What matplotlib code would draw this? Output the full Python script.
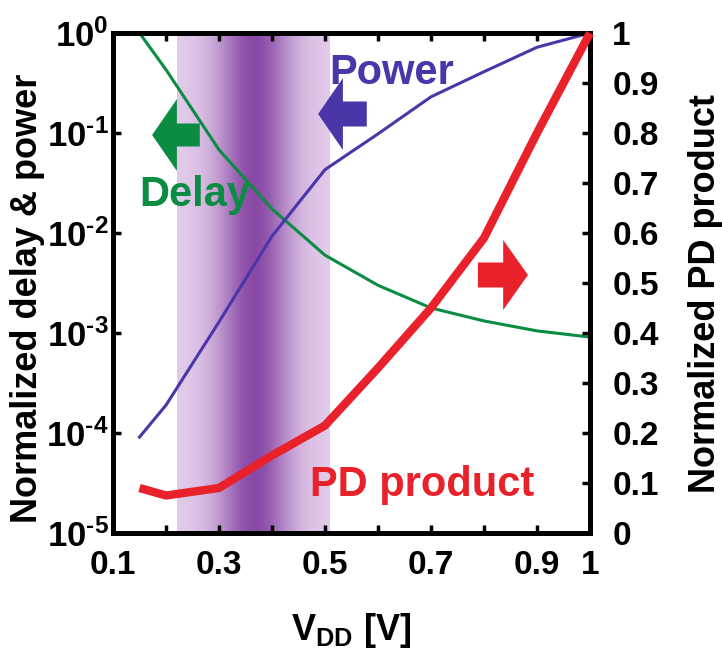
import numpy as np
import matplotlib
matplotlib.use('Agg')
import matplotlib.pyplot as plt
import matplotlib.patches as patches

plt.rcParams['font.family'] = 'Liberation Sans'
plt.rcParams['font.weight'] = 'bold'
plt.rcParams['axes.labelweight'] = 'bold'
plt.rcParams['mathtext.fontset'] = 'custom'
plt.rcParams['mathtext.rm'] = 'Liberation Sans:bold'
plt.rcParams['mathtext.bf'] = 'Liberation Sans:bold'
plt.rcParams['mathtext.it'] = 'Liberation Sans:bold'
plt.rcParams['mathtext.default'] = 'bf'

# data
vdd = [0.15, 0.2, 0.3, 0.4, 0.5, 0.6, 0.7, 0.8, 0.9, 1.0]
delay = [1.0, 0.43, 0.068, 0.0174, 0.006, 0.003, 0.00178, 0.00132, 0.00105, 0.00091]
power = [9.1e-5, 1.9e-4, 1.29e-3, 9.3e-3, 0.043, 0.098, 0.23, 0.41, 0.72, 1.0]
pd_product = [0.09, 0.075, 0.09, 0.155, 0.215, 0.33, 0.45, 0.59, 0.80, 1.0]

x_ticks = [0.1, 0.2, 0.3, 0.4, 0.5, 0.6, 0.7, 0.8, 0.9, 1.0]
x_labels = ['0.1', '', '0.3', '', '0.5', '', '0.7', '', '0.9', '1']
left_ticks = [1e-5, 1e-4, 1e-3, 1e-2, 1e-1, 1]
left_labels = [r'$10^{\text{-}5}$', r'$10^{\text{-}4}$', r'$10^{\text{-}3}$',
               r'$10^{\text{-}2}$', r'$10^{\text{-}1}$', r'$10^{0}$']
right_ticks = [0, 0.1, 0.2, 0.3, 0.4, 0.5, 0.6, 0.7, 0.8, 0.9, 1.0]
right_labels = ['0', '0.1', '0.2', '0.3', '0.4', '0.5', '0.6', '0.7', '0.8', '0.9', '1']

band = (0.22, 0.51)

green = '#0a8c42'
blue = '#4a36a8'
red = '#e8212b'

fig = plt.figure(figsize=(7.22, 6.48), dpi=100)
ax = fig.add_axes([113/722, 1-533/648, 477/722, 500/648])
ax.set_yscale('log')

# purple shaded band, dark in the middle
xs = np.linspace(band[0], band[1], 300)
k = np.exp(-((xs - 0.365) / 0.07) ** 2)
light = np.array([0.89, 0.80, 0.92])
dark = np.array([0.54, 0.29, 0.65])
img = light[None, :] * (1 - k[:, None]) + dark[None, :] * k[:, None]
ax.imshow(img[None, :, :], extent=[band[0], band[1], 0, 1], aspect='auto',
          transform=ax.get_xaxis_transform(), zorder=0, interpolation='bilinear')
ax.set_xlim(0.1, 1.0)
ax.set_ylim(1e-5, 1)

ax.plot(vdd, delay, color=green, lw=2.2, zorder=3, clip_on=False)
ax.plot(vdd, power, color=blue, lw=2.2, zorder=3, clip_on=False)

ax.set_xticks(x_ticks)
ax.set_xticklabels(x_labels)
ax.set_yticks(left_ticks)
ax.set_yticklabels(left_labels)
ax.yaxis.set_minor_locator(matplotlib.ticker.NullLocator())
ax.tick_params(axis='both', which='major', direction='in', length=6, width=2.5,
               labelsize=24, top=True)
ax.tick_params(axis='x', pad=12)
ax.tick_params(axis='y', pad=3, labelsize=25)
ax.set_xlabel(r'$V_{DD}$ [V]', fontsize=26)
ax.xaxis.set_label_coords(0.5, -0.155)
ax.set_ylabel('Normalized delay & power', fontsize=26)
ax.yaxis.set_label_coords(-0.142, 0.47)
for s in ax.spines.values():
    s.set_linewidth(3.5)

ax2 = ax.twinx()
ax2.set_ylim(0, 1)
ax2.plot(vdd, pd_product, color=red, lw=6, zorder=4, clip_on=False, solid_capstyle='butt')
ax2.set_yticks(right_ticks)
ax2.set_yticklabels(right_labels)
ax2.tick_params(axis='y', direction='in', length=6, width=2.5, labelsize=24, pad=16)
ax2.set_ylabel('Normalized PD product', fontsize=26)
ax2.yaxis.set_label_coords(1.205, 0.48)
for s in ax2.spines.values():
    s.set_linewidth(3.5)

# block arrows (axes fraction) and curve labels
def block_arrow(tip, head_base, tail, yc, body_h, head_h, color):
    pts = [(tip, yc), (head_base, yc + head_h / 2), (head_base, yc + body_h / 2),
           (tail, yc + body_h / 2), (tail, yc - body_h / 2),
           (head_base, yc - body_h / 2), (head_base, yc - head_h / 2)]
    ax2.add_patch(patches.Polygon(pts, closed=True, transform=ax2.transAxes,
                                  facecolor=color, edgecolor='none', zorder=5))

block_arrow(0.082, 0.134, 0.182, 0.796, 0.046, 0.144, green)
block_arrow(0.430, 0.482, 0.532, 0.838, 0.05, 0.144, blue)
block_arrow(0.870, 0.818, 0.765, 0.516, 0.05, 0.14, red)

ax2.text(0.172, 0.676, 'Delay', color=green, fontsize=30, ha='center', va='center',
         transform=ax2.transAxes)
ax2.text(0.585, 0.92, 'Power', color=blue, fontsize=30, ha='center', va='center',
         transform=ax2.transAxes)
ax2.text(0.648, 0.096, 'PD product', color=red, fontsize=30, ha='center', va='center',
         transform=ax2.transAxes)

fig.savefig('out.png', dpi=100)
